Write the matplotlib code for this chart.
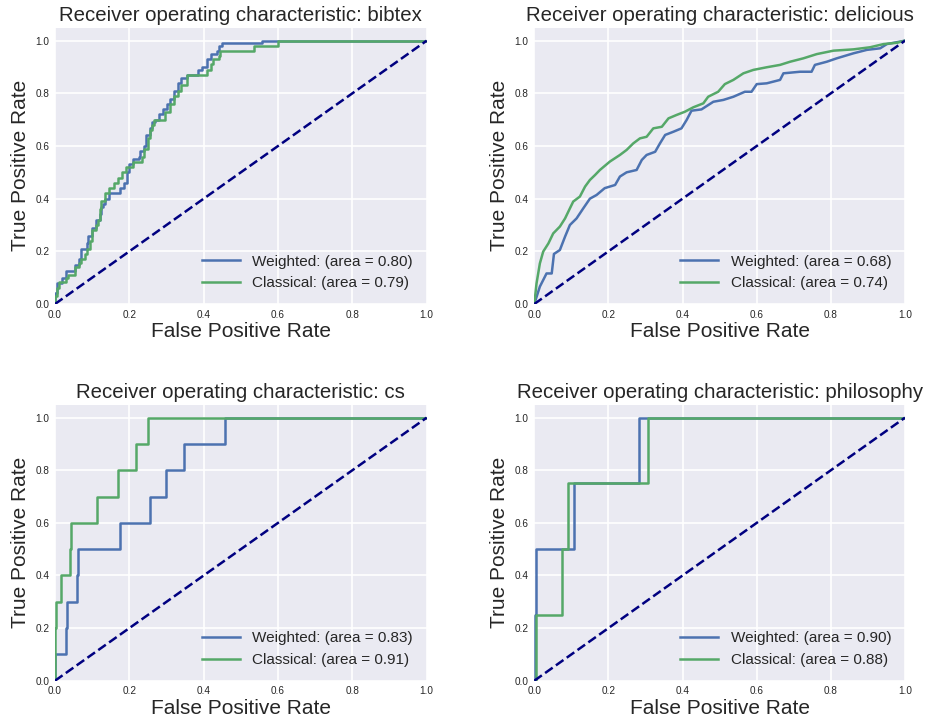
import matplotlib
matplotlib.use("Agg")
import matplotlib.pyplot as plt

# --- old seaborn "darkgrid" look, by hand ---
plt.rcParams.update({
    "font.family": ["Liberation Sans", "DejaVu Sans"],
    "axes.facecolor": "#EAEAF2",
    "axes.edgecolor": "white",
    "axes.grid": True,
    "grid.color": "white",
    "grid.linewidth": 1.2,
    "axes.axisbelow": True,
    "xtick.major.size": 0,
    "ytick.major.size": 0,
    "xtick.labelsize": 7.2,
    "ytick.labelsize": 7.2,
    "xtick.color": ".15",
    "ytick.color": ".15",
    "text.color": ".15",
    "axes.labelcolor": ".15",
})

BLUE = "#4C72B0"
GREEN = "#55A868"

# --- data: fpr jump positions and tpr level after each jump ---
bibtex_w_fpr = [0.0, 0.0, 0.005, 0.02, 0.03, 0.055, 0.065, 0.07, 0.085, 0.09, 0.1, 0.11,
                0.12, 0.125, 0.13, 0.135, 0.145, 0.175, 0.185, 0.195, 0.2, 0.21, 0.225,
                0.23, 0.24, 0.245, 0.255, 0.26, 0.27, 0.28, 0.29, 0.3, 0.31, 0.32, 0.33,
                0.34, 0.355, 0.385, 0.395, 0.41, 0.42, 0.435, 0.44, 0.45, 0.556, 1.0]
bibtex_w_tpr = [0.0, 0.04, 0.08, 0.10, 0.125, 0.15, 0.17, 0.21, 0.23, 0.26, 0.29, 0.32,
                0.34, 0.37, 0.38, 0.40, 0.42, 0.44, 0.46, 0.50, 0.53, 0.55, 0.56,
                0.58, 0.60, 0.64, 0.67, 0.69, 0.70, 0.72, 0.74, 0.76, 0.78, 0.81, 0.84,
                0.86, 0.87, 0.89, 0.90, 0.93, 0.95, 0.96, 0.98, 0.99, 1.0, 1.0]
bibtex_c_fpr = [0.0, 0.0, 0.005, 0.01, 0.03, 0.035, 0.055, 0.065, 0.07, 0.08, 0.085, 0.095,
                0.1, 0.11, 0.115, 0.12, 0.125, 0.135, 0.145, 0.16, 0.17, 0.18, 0.19,
                0.21, 0.235, 0.24, 0.25, 0.255, 0.26, 0.265, 0.295, 0.31, 0.32, 0.33,
                0.34, 0.355, 0.41, 0.42, 0.425, 0.44, 0.445, 0.535, 0.6, 1.0]
bibtex_c_tpr = [0.0, 0.03, 0.06, 0.085, 0.10, 0.11, 0.14, 0.155, 0.17, 0.19, 0.21, 0.24,
                0.28, 0.30, 0.32, 0.36, 0.39, 0.42, 0.44, 0.46, 0.48, 0.50, 0.52,
                0.54, 0.56, 0.59, 0.63, 0.66, 0.68, 0.70, 0.73, 0.76, 0.79, 0.81,
                0.83, 0.87, 0.89, 0.91, 0.93, 0.94, 0.96, 0.98, 1.0, 1.0]

delicious_w_fpr = [0.0, 0.015, 0.033, 0.047, 0.053, 0.069, 0.083, 0.096, 0.114, 0.132, 0.15,
                   0.168, 0.19, 0.218, 0.231, 0.249, 0.276, 0.29, 0.303, 0.326, 0.339, 0.353,
                   0.375, 0.397, 0.411, 0.424, 0.451, 0.483, 0.51, 0.537, 0.568, 0.586, 0.6,
                   0.627, 0.663, 0.672, 0.717, 0.748, 0.757, 0.789, 0.816, 0.861, 0.897,
                   0.933, 0.951, 1.0]
delicious_w_tpr = [0.0, 0.066, 0.116, 0.116, 0.19, 0.205, 0.256, 0.30, 0.325, 0.363, 0.40,
                   0.414, 0.44, 0.452, 0.484, 0.50, 0.509, 0.547, 0.566, 0.578, 0.61, 0.642,
                   0.654, 0.667, 0.699, 0.734, 0.739, 0.768, 0.775, 0.787, 0.806, 0.806, 0.835,
                   0.838, 0.851, 0.876, 0.882, 0.882, 0.908, 0.92, 0.933, 0.952, 0.965,
                   0.971, 0.987, 1.0]
delicious_c_fpr = [0.0, 0.006, 0.015, 0.024, 0.038, 0.051, 0.069, 0.083, 0.096, 0.105, 0.123,
                   0.137, 0.15, 0.164, 0.177, 0.204, 0.231, 0.249, 0.267, 0.285, 0.303, 0.321,
                   0.344, 0.362, 0.384, 0.406, 0.429, 0.456, 0.469, 0.496, 0.514, 0.537,
                   0.564, 0.591, 0.627, 0.663, 0.69, 0.726, 0.762, 0.807, 0.861, 0.906,
                   0.942, 0.978, 1.0]
delicious_c_tpr = [0.0, 0.078, 0.154, 0.199, 0.23, 0.268, 0.294, 0.325, 0.363, 0.389, 0.408,
                   0.446, 0.471, 0.49, 0.509, 0.541, 0.566, 0.585, 0.61, 0.629, 0.635, 0.667,
                   0.673, 0.705, 0.718, 0.73, 0.747, 0.762, 0.787, 0.806, 0.835, 0.851,
                   0.876, 0.889, 0.899, 0.908, 0.92, 0.933, 0.949, 0.962, 0.967, 0.975,
                   0.987, 0.992, 1.0]

cs_w_fpr = [0.0, 0.0, 0.030, 0.033, 0.058, 0.061, 0.175, 0.256, 0.299, 0.347, 0.457, 1.0]
cs_w_tpr = [0.0, 0.1, 0.2, 0.3, 0.4, 0.5, 0.6, 0.7, 0.8, 0.9, 1.0, 1.0]
cs_c_fpr = [0.0, 0.0, 0.004, 0.016, 0.040, 0.043, 0.114, 0.170, 0.218, 0.249, 1.0]
cs_c_tpr = [0.0, 0.2, 0.3, 0.4, 0.5, 0.6, 0.7, 0.8, 0.9, 1.0, 1.0]

philo_w_fpr = [0.0, 0.002, 0.005, 0.107, 0.282, 1.0]
philo_w_tpr = [0.0, 0.25, 0.5, 0.75, 1.0, 1.0]
philo_c_fpr = [0.0, 0.004, 0.075, 0.090, 0.308, 1.0]
philo_c_tpr = [0.0, 0.25, 0.5, 0.75, 1.0, 1.0]

panels = [
    ("bibtex", bibtex_w_fpr, bibtex_w_tpr, bibtex_c_fpr, bibtex_c_tpr, 0.80, 0.79, "steps-post"),
    ("delicious", delicious_w_fpr, delicious_w_tpr, delicious_c_fpr, delicious_c_tpr, 0.68, 0.74, "default"),
    ("cs", cs_w_fpr, cs_w_tpr, cs_c_fpr, cs_c_tpr, 0.83, 0.91, "steps-post"),
    ("philosophy", philo_w_fpr, philo_w_tpr, philo_c_fpr, philo_c_tpr, 0.90, 0.88, "steps-post"),
]

W, H = 929, 721
fig = plt.figure(figsize=(W / 100, H / 100), dpi=100)

# axes boxes in pixels: left, right, top(px), bottom(px)
cols = [(55, 426.7), (534.3, 905)]
rows = [(27.5, 304), (404.5, 680.7)]

for i, (name, wf, wt, cf, ct, wa, ca, ds) in enumerate(panels):
    (x0, x1), (y0, y1) = cols[i % 2], rows[i // 2]
    ax = fig.add_axes([x0 / W, 1 - y1 / H, (x1 - x0) / W, (y1 - y0) / H])
    ax.plot(wf, wt, color=BLUE, lw=1.8, drawstyle=ds,
            label="Weighted: (area = %0.2f)" % wa)
    ax.plot(cf, ct, color=GREEN, lw=1.8, drawstyle=ds,
            label="Classical: (area = %0.2f)" % ca)
    ax.plot([0, 1], [0, 1], color="navy", lw=1.8, linestyle="--")
    ax.set_xlim(0.0, 1.0)
    ax.set_ylim(0.0, 1.05)
    ax.set_xticks([0.0, 0.2, 0.4, 0.6, 0.8, 1.0])
    ax.set_yticks([0.0, 0.2, 0.4, 0.6, 0.8, 1.0])
    ax.tick_params(pad=4)
    for s in ax.spines.values():
        s.set_visible(False)
    ax.set_xlabel("False Positive Rate", fontsize=15, labelpad=2)
    ax.set_ylabel("True Positive Rate", fontsize=15, labelpad=4)
    ax.set_title("Receiver operating characteristic: " + name, fontsize=14.7, pad=5)
    ax.legend(loc="lower right", frameon=False, fontsize=11, handlelength=2.5)

fig.savefig("out.png", dpi=100)
